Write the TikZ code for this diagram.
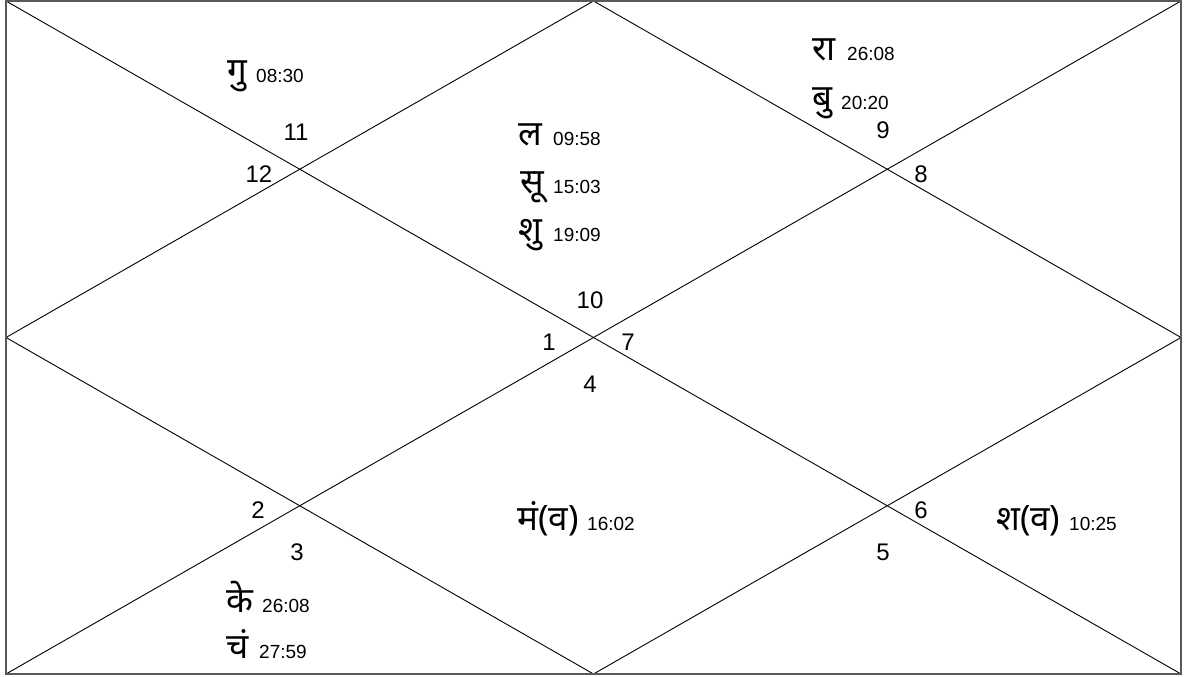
\documentclass[tikz,border=0pt]{standalone}
\usepackage{fontspec}
\setmainfont{Liberation Sans}
\newfontfamily\devfont[Script=Devanagari]{Noto Sans}
\begin{document}
\begin{tikzpicture}[x=1pt,y=-1pt,
  num/.style={anchor=base, inner sep=0pt, font=\fontsize{24}{28}\selectfont},
  pl/.style={anchor=base west, inner sep=0pt, font=\devfont\fontsize{35}{38}\selectfont},
  tm/.style={anchor=base west, inner sep=0pt, font=\fontsize{19}{21}\selectfont},
  frame/.style={line width=2pt, draw=black!65},
  grid/.style={line width=0.9pt, draw=black}]
\useasboundingbox (0,0) rectangle (1187,677);
\coordinate (tl) at (6,1);
\coordinate (tr) at (1181,1);
\coordinate (bl) at (6,674);
\coordinate (br) at (1181,674);
\coordinate (t) at (593.5,1);
\coordinate (b) at (593.5,674);
\coordinate (l) at (6,337.5);
\coordinate (r) at (1181,337.5);
\draw[grid] (tl) -- (br);
\draw[grid] (tr) -- (bl);
\draw[grid] (t) -- (r) -- (b) -- (l) -- cycle;
\draw[frame] (tl) rectangle (br);
% house numbers
\node[num] (h11) at (296,140) {11};
\node[num] (h12) at (259,182) {12};
\node[num] (h9) at (883,138) {9};
\node[num] (h8) at (921,182) {8};
\node[num] (h10) at (590,308) {10};
\node[num] (h1) at (549,350) {1};
\node[num] (h7) at (628,350) {7};
\node[num] (h4) at (590,392) {4};
\node[num] (h2) at (258,518) {2};
\node[num] (h3) at (297,560) {3};
\node[num] (h6) at (921,518) {6};
\node[num] (h5) at (883,560) {5};
% planets
\node[pl] (gu) at (227,83) {गु};
\node[tm] (gut) at (256,83) {08:30};
\node[pl] (la) at (518,145) {ल};
\node[tm] (lat) at (553,145) {09:58};
\node[pl] (su) at (520,193) {सू};
\node[tm] (sut) at (553,193) {15:03};
\node[pl] (shu) at (518,241) {शु};
\node[tm] (shut) at (553,241) {19:09};
\node[pl] (ra) at (812,61) {रा};
\node[tm] (rat) at (847,61) {26:08};
\node[pl] (bu) at (812,110) {बु};
\node[tm] (but) at (841,110) {20:20};
\node[pl] (ke) at (226,612) {के};
\node[tm] (ket) at (262,612) {26:08};
\node[pl] (ch) at (226,658) {चं};
\node[tm] (cht) at (259,658) {27:59};
\node[pl] (ma) at (517,530) {मं(व)};
\node[tm] (mat) at (587,530) {16:02};
\node[pl] (sha) at (996,530) {श(व)};
\node[tm] (shat) at (1069,530) {10:25};
\end{tikzpicture}
\end{document}
